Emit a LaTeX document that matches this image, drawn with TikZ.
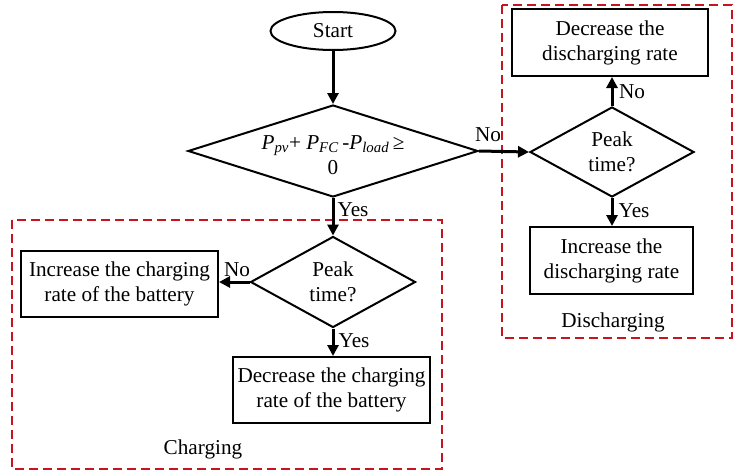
\documentclass[tikz,border=0pt]{standalone}
\usepackage{fontspec}
\setmainfont{Liberation Serif}
\usetikzlibrary{shapes.geometric,arrows.meta}
\definecolor{grpred}{RGB}{200,20,30}
\begin{document}
\begin{tikzpicture}[x=1pt,y=-1pt,
  every node/.style={font=\fontsize{21.2}{25}\selectfont},
  box/.style={draw,line width=2pt,inner sep=0pt,align=center},
  dia/.style={draw,diamond,line width=2pt,inner sep=0pt},
  arr/.style={line width=3pt,-{Triangle[length=11pt,width=11pt]}},
  grp/.style={draw=grpred,line width=1.8pt,dash pattern=on 9pt off 5pt},
  lbl/.style={inner sep=0pt}]
\useasboundingbox (0,0) rectangle (736,471);
% groups
\draw[grp] (502,5) rectangle (732,338);
\draw[grp] (12,220) rectangle (442,469);
\node[lbl] (dislbl) at (613,322) {Discharging};
\node[lbl] (chlbl) at (203,449) {Charging};
% nodes
\node[draw,ellipse,line width=2pt,minimum width=125pt,minimum height=38pt,inner sep=0pt] (start) at (333,31) {Start};
\node[dia,minimum width=290pt,minimum height=92pt] (d1) at (333,151) {};
\node[align=center,inner sep=0pt] (d1t) at (333,155) {\textit{P}\textsubscript{\textit{pv}}+ \textit{P}\textsubscript{\textit{FC}}\,-\textit{P}\textsubscript{\textit{load}}\,≥\\0};
\node[dia,minimum width=164pt,minimum height=90pt,align=center] (d2) at (612,152) {Peak\\time?};
\node[dia,minimum width=165pt,minimum height=91pt,align=center] (d3) at (333,282) {Peak\\time?};
\node[box,minimum width=196pt,minimum height=67pt] (decdis) at (610,42.5) {Decrease the\\discharging rate};
\node[box,minimum width=163pt,minimum height=67pt] (incdis) at (611.5,260.5) {Increase the\\discharging rate};
\node[box,minimum width=197pt,minimum height=66pt] (inch) at (119.5,284) {Increase the charging\\rate of the battery};
\node[box,minimum width=197pt,minimum height=66pt] (dech) at (331.5,390) {Decrease the charging\\rate of the battery};
% connectors
\draw[arr] (start) -- (d1.north);
\draw[arr] (d1.east) -- (d2.west);
\draw[arr] (d2.north) -- (d2.north |- decdis.south);
\draw[arr] (d2.south) -- (d2.south |- incdis.north);
\draw[arr] (d1.south) -- (d3.north);
\draw[arr] (d3.west) -- (d3.west -| inch.east);
\draw[arr] (d3.south) -- (d3.south |- dech.north);
% labels
\node[lbl] (no1) at (488,135) {No};
\node[lbl] (no2) at (632,92) {No};
\node[lbl] (yes2) at (634,211) {Yes};
\node[lbl] (yes1) at (353,210) {Yes};
\node[lbl] (no3) at (237,270) {No};
\node[lbl] (yes3) at (354,341) {Yes};
\end{tikzpicture}
\end{document}
